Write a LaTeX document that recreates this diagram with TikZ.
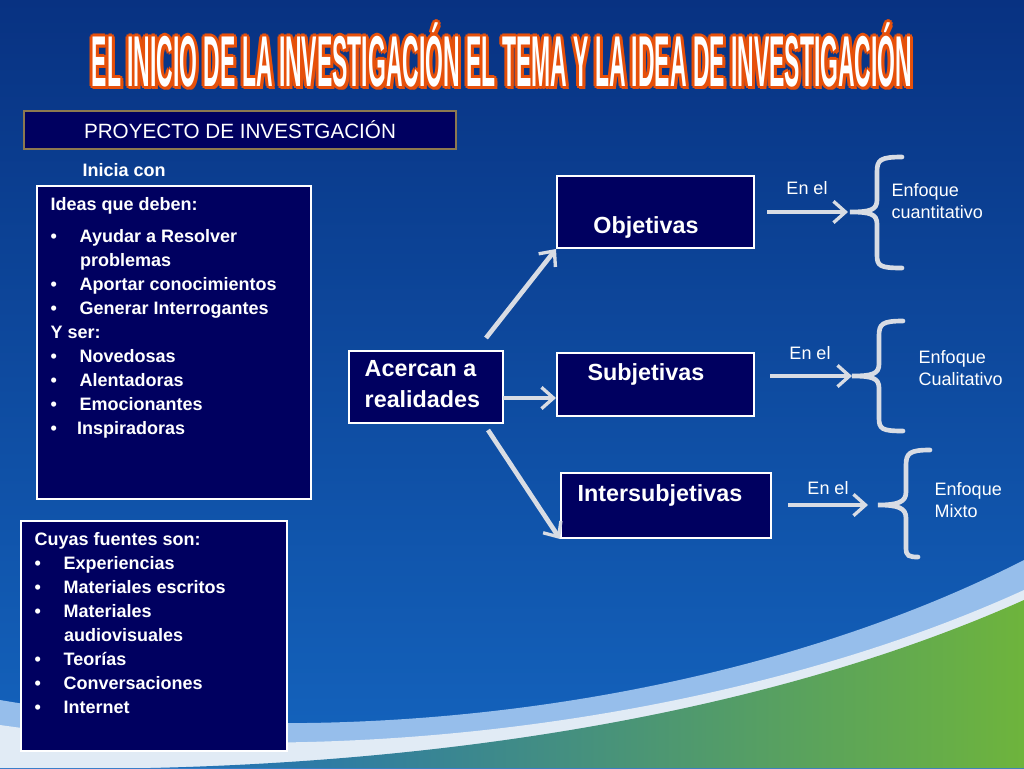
\documentclass[tikz,border=0pt]{standalone}
\usepackage{fontspec}
\setmainfont{Liberation Sans}
\usetikzlibrary{arrows.meta}
\definecolor{navy}{HTML}{000060}
\definecolor{arr}{HTML}{D8DCE4}
\definecolor{bgtop}{RGB}{8,50,130}
\definecolor{bgbot}{RGB}{20,100,190}
\definecolor{sw1}{RGB}{150,190,235}
\definecolor{sw2}{RGB}{225,235,245}
\definecolor{gl}{RGB}{30,110,190}
\definecolor{gr}{RGB}{110,180,60}
\definecolor{tor}{RGB}{230,80,10}
\definecolor{olive}{RGB}{140,120,80}
\tikzset{
 bx/.style={fill=navy,draw=white,line width=1.5pt,anchor=north west,inner sep=0pt},
 conn/.style={draw=arr,line width=3.5pt,-{Straight Barb[length=9pt,width=16pt,line width=2.5pt]}},
 brace/.style={draw=arr,line width=3.5pt,line cap=round},
 wt/.style={text=white,font=\fontsize{13.5}{16}\selectfont},
 bt/.style={text=white,font=\bfseries\fontsize{13.5}{18}\selectfont,align=left,anchor=north west},
 big/.style={text=white,font=\bfseries\fontsize{17.5}{23}\selectfont,align=left},
 ttl/.style={font=\bfseries\fontsize{40}{40}\selectfont,xscale=0.43,yscale=1.35}
}
\newcommand{\ttltext}{EL INICIO DE LA INVESTIGACIÓN EL TEMA Y LA IDEA DE INVESTIGACIÓN}
\begin{document}
\begin{tikzpicture}[x=0.75pt,y=-0.75pt]
\useasboundingbox (0,0) rectangle (1024,768);
\shade[top color=bgtop,bottom color=bgbot] (0,0) rectangle (1024,768);
\fill[sw1] (0,700) .. controls (350,760) and (750,700) .. (1024,560) -- (1024,768) -- (0,768) -- cycle;
\fill[sw2] (0,725) .. controls (350,775) and (750,715) .. (1024,590) -- (1024,768) -- (0,768) -- cycle;
\shade[left color=gl,right color=gr] (150,768) .. controls (500,760) and (800,700) .. (1024,600) -- (1024,768) -- cycle;
\foreach \dx/\dy in {-2/-2,2/-2,-2/2,2/2,0/3,3/0,-3/0,0/-3,3/3}
  \node[text=tor,ttl] at (502+\dx,55+\dy) {\ttltext};
\node[text=white,ttl] (title) at (502,55) {\ttltext};
\node[fill=navy,draw=olive,line width=2pt,minimum width=432*0.75pt,minimum height=38*0.75pt,wt,font=\fontsize{15.5}{18}\selectfont] (proy) at (240,130) {PROYECTO DE INVESTGACIÓN};
\node[bt] (inicia) at (78,159) {Inicia con};
\node[bx,minimum width=274*0.75pt,minimum height=313*0.75pt] (ideas) at (36,185) {};
\node[bt] (ideastx) at (46,193) {Ideas que deben:\\[6pt]
\textbullet\hspace{17pt}Ayudar a Resolver\\\hspace{22pt}problemas\\
\textbullet\hspace{17pt}Aportar conocimientos\\
\textbullet\hspace{17pt}Generar Interrogantes\\
Y ser:\\
\textbullet\hspace{17pt}Novedosas\\
\textbullet\hspace{17pt}Alentadoras\\
\textbullet\hspace{17pt}Emocionantes\\
\textbullet\hspace{15pt}Inspiradoras};
\node[bx,minimum width=266*0.75pt,minimum height=230*0.75pt] (fuentes) at (20,520) {};
\node[bt] (fuentestx) at (30,528) {Cuyas fuentes son:\\
\textbullet\hspace{17pt}Experiencias\\
\textbullet\hspace{17pt}Materiales escritos\\
\textbullet\hspace{17pt}Materiales\\\hspace{22pt}audiovisuales\\
\textbullet\hspace{17pt}Teorías\\
\textbullet\hspace{17pt}Conversaciones\\
\textbullet\hspace{17pt}Internet};
\node[bx,minimum width=154*0.75pt,minimum height=72*0.75pt] (acer) at (348,350) {};
\node[big,anchor=north west] at (360,356) {Acercan a\\realidades};
\node[bx,minimum width=197*0.75pt,minimum height=72*0.75pt] (obj) at (556,175) {};
\node[big] at (646,227) {Objetivas};
\node[bx,minimum width=197*0.75pt,minimum height=63*0.75pt] (sub) at (556,352) {};
\node[big] at (646,374) {Subjetivas};
\node[bx,minimum width=210*0.75pt,minimum height=65*0.75pt] (inter) at (560,472) {};
\node[big] at (660,495) {Intersubjetivas};
\coordinate (a1) at (486,338); \coordinate (a2) at (503,398); \coordinate (a3) at (488,430);
\draw[conn] (a1) -- (obj.south west);
\draw[conn] (a2) -- (sub.west |- a2);
\draw[conn] (a3) -- (inter.south west);
\coordinate (e1s) at (767,212); \coordinate (e1e) at (848,212);
\coordinate (e2s) at (770,376); \coordinate (e2e) at (852,376);
\coordinate (e3s) at (788,505); \coordinate (e3e) at (868,505);
\draw[conn] (e1s) -- (e1e);
\draw[conn] (e2s) -- (e2e);
\draw[conn] (e3s) -- (e3e);
\node[wt] (en1) at (807,188) {En el};
\node[wt] (en2) at (810,353) {En el};
\node[wt] (en3) at (828,488) {En el};
\draw[brace] (902,157) .. controls (880,157) and (877,160) .. (877,172) -- (877,200) .. controls (877,210) and (870,212) .. (850,212) .. controls (870,212) and (877,214) .. (877,224) -- (877,255) .. controls (877,266) and (880,268) .. (902,268);
\draw[brace] (903,321) .. controls (882,321) and (879,324) .. (879,336) -- (879,364) .. controls (879,374) and (872,376) .. (852,376) .. controls (872,376) and (879,378) .. (879,388) -- (879,418) .. controls (879,429) and (882,431) .. (903,431);
\draw[brace] (930,450) .. controls (910,450) and (906,453) .. (906,465) -- (906,492) .. controls (906,502) and (898,505) .. (878,505) .. controls (898,505) and (906,508) .. (906,518) -- (906,548) .. controls (906,556) and (909,557) .. (918,557);
\node[wt,align=left,anchor=north west] (q1) at (887,179) {Enfoque\\cuantitativo};
\node[wt,align=left,anchor=north west] (q2) at (914,346) {Enfoque\\Cualitativo};
\node[wt,align=left,anchor=north west] (q3) at (930,478) {Enfoque\\Mixto};
\end{tikzpicture}
\end{document}
